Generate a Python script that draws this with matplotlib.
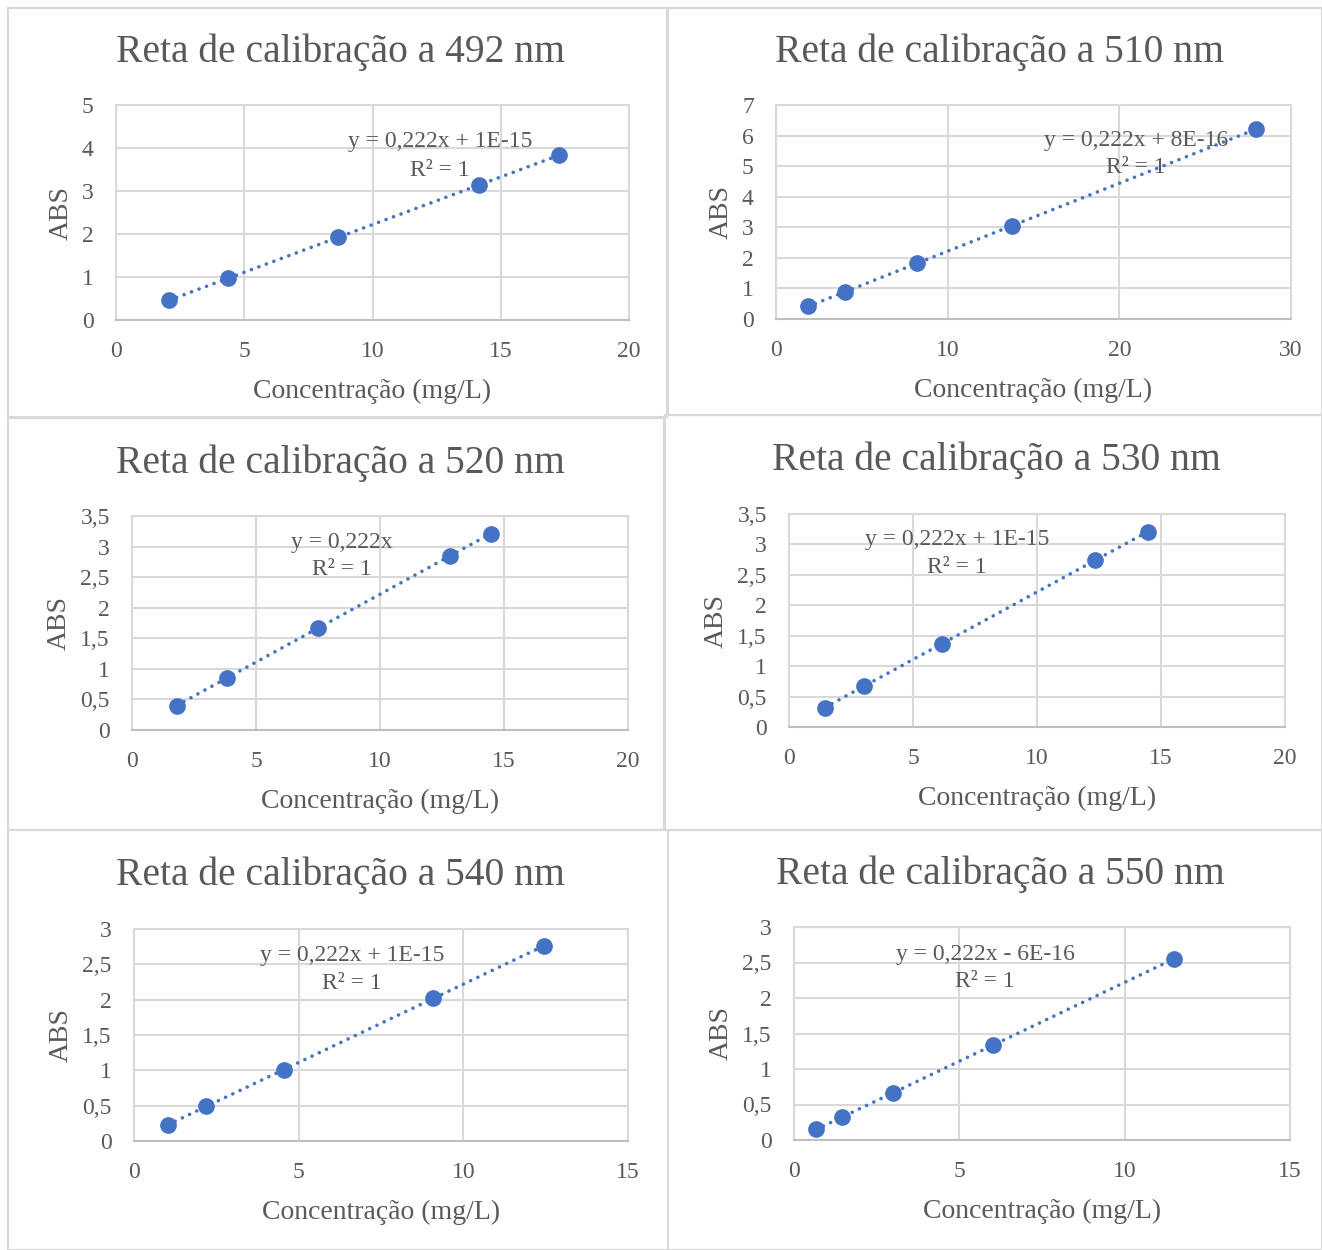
import numpy as np
from matplotlib import pyplot as plt
from matplotlib.patches import Rectangle

plt.rcParams['font.family'] = ['Liberation Serif', 'DejaVu Serif']

W, H = 1322, 1250

# data
titles = ["Reta de calibração a 492 nm", "Reta de calibração a 510 nm",
          "Reta de calibração a 520 nm", "Reta de calibração a 530 nm",
          "Reta de calibração a 540 nm", "Reta de calibração a 550 nm"]

x_492 = [2.07, 4.37, 8.65, 14.15, 17.27]
y_492 = [0.46, 0.97, 1.92, 3.14, 3.83]
x_510 = [1.86, 4.02, 8.21, 13.75, 27.96]
y_510 = [0.41, 0.89, 1.82, 3.05, 6.21]
x_520 = [1.81, 3.83, 7.50, 12.82, 14.48]
y_520 = [0.40, 0.85, 1.67, 2.85, 3.21]
x_530 = [1.45, 3.02, 6.17, 12.34, 14.48]
y_530 = [0.32, 0.67, 1.37, 2.74, 3.21]
x_540 = [1.03, 2.19, 4.56, 9.08, 12.45]
y_540 = [0.23, 0.49, 1.01, 2.02, 2.76]
x_550 = [0.67, 1.45, 2.99, 6.02, 11.49]
y_550 = [0.15, 0.32, 0.66, 1.34, 2.55]

equations = ["y = 0,222x + 1E-15", "y = 0,222x + 8E-16", "y = 0,222x",
             "y = 0,222x + 1E-15", "y = 0,222x + 1E-15", "y = 0,222x - 6E-16"]

xmax = [20, 30, 20, 20, 15, 15]
xstep = [5, 10, 5, 5, 5, 5]
ymax = [5, 7, 3.5, 3.5, 3, 3]
ystep = [1, 1, 0.5, 0.5, 0.5, 0.5]

xs = [x_492, x_510, x_520, x_530, x_540, x_550]
ys = [y_492, y_510, y_520, y_530, y_540, y_550]

# layout in pixels: panel box, plot area (left, top, right, bottom), label spots
panels = [(8, 8, 667, 417), (668, 8, 1322, 415), (8, 418, 664, 830),
          (665, 415, 1322, 830), (8, 830, 668, 1250), (668, 830, 1322, 1250)]
plots = [(116, 105, 629, 320), (776, 105, 1291, 319), (132, 516, 628, 730),
         (789, 514, 1285, 727), (134, 929, 628, 1141), (794, 927, 1290, 1140)]
title_pos = [(340, 52), (1000, 52), (340, 463), (996, 460), (340, 875), (1000, 874)]
eq_pos = [(0.632, 0.828, 0.697), (0.699, 0.832, 0.706), (0.423, 0.874, 0.748),
          (0.339, 0.878, 0.751), (0.441, 0.877, 0.745), (0.385, 0.873, 0.742)]

txt = '#595959'
grid = '#d9d9d9'
blue = '#4472c4'

fig = plt.figure(figsize=(W / 100, H / 100), dpi=100)

for i in range(6):
    l, t, r, b = panels[i]
    fig.patches.append(Rectangle((l / W, 1 - b / H), (r - l) / W, (b - t) / H,
                                 transform=fig.transFigure, fill=False,
                                 edgecolor=grid, linewidth=1.5))

    l, t, r, b = plots[i]
    ax = fig.add_axes([l / W, 1 - b / H, (r - l) / W, (b - t) / H])
    x = np.array(xs[i])
    y = np.array(ys[i])

    k, c = np.polyfit(x, y, 1)
    xl = np.array([x[0], x[-1]])
    ax.plot(xl, k * xl + c, color=blue, lw=2.6, linestyle=(0, (0.01, 2.2)),
            dash_capstyle='round', zorder=2)
    ax.plot(x, y, 'o', color=blue, markersize=11, zorder=3)

    ax.set_xlim(0, xmax[i])
    ax.set_ylim(0, ymax[i])
    ax.set_xticks(np.arange(0, xmax[i] + 0.01, xstep[i]))
    yt = np.arange(0, ymax[i] + 0.01, ystep[i])
    ax.set_yticks(yt)
    ax.set_yticklabels([('%g' % v).replace('.', ',') for v in yt])
    ax.grid(True, color=grid, lw=1.5)
    ax.set_axisbelow(True)
    for s in ax.spines.values():
        s.set_color(grid)
        s.set_linewidth(1.5)
    ax.spines['bottom'].set_color('#bfbfbf')
    ax.tick_params(length=0, labelsize=17, labelcolor=txt)
    ax.tick_params(axis='x', pad=15)
    ax.tick_params(axis='y', pad=16)
    ax.set_xlabel("Concentração (mg/L)", fontsize=20, color=txt, labelpad=12)
    ax.set_ylabel("ABS", fontsize=20, color=txt, labelpad=6)

    ex, ey, ry = eq_pos[i]
    ax.text(ex, ey, equations[i], transform=ax.transAxes, ha='center',
            va='center', fontsize=17, color=txt)
    ax.text(ex, ry, "R² = 1", transform=ax.transAxes, ha='center',
            va='center', fontsize=17, color=txt)

    tx, ty = title_pos[i]
    fig.text(tx / W, 1 - ty / H, titles[i], ha='center', va='center',
             fontsize=28.5, color=txt)

fig.savefig('out.png', dpi=100, facecolor='white')
